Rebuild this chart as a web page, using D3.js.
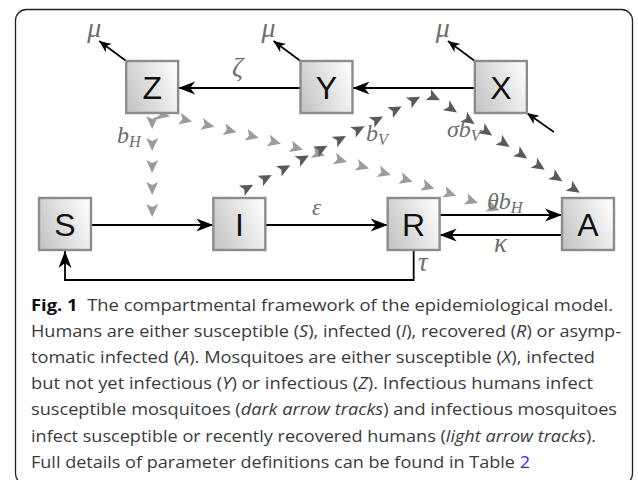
<!DOCTYPE html>
<html>
<head>
<meta charset="utf-8">
<script src="https://cdn.jsdelivr.net/npm/d3@7"></script>
<style>
  body { margin: 0; background: #fff; }
  svg { display: block; }
</style>
</head>
<body>
<script>
// page set up
const FRAME_WIDTH = 638;
const FRAME_HEIGHT = 480;
const BOX = 52;

// compartments (humans on the bottom row, mosquitoes on the top row)
const HUMANS = ["S", "I", "R", "A"];
const MOSQUITOES = ["Z", "Y", "X"];

// transitions between compartments
const FLOWS = [
  {from: "S", to: "I"},
  {from: "I", to: "R"},
  {from: "R", to: "A"},
  {from: "A", to: "R"},
  {from: "X", to: "Y"},
  {from: "Y", to: "Z"}
];
const DEATH_LABEL = "μ";
const RETURN_LABEL = "τ";

// caption lines, each a list of [text, style]
const CAPTION = [
  [["Fig. 1", "b"], ["  The compartmental framework of the epidemiological model.", ""]],
  [["Humans are either susceptible (", ""], ["S", "i"], ["), infected (", ""], ["I", "i"], ["), recovered (", ""], ["R", "i"], [") or asymp-", ""]],
  [["tomatic infected (", ""], ["A", "i"], ["). Mosquitoes are either susceptible (", ""], ["X", "i"], ["), infected", ""]],
  [["but not yet infectious (", ""], ["Y", "i"], [") or infectious (", ""], ["Z", "i"], ["). Infectious humans infect", ""]],
  [["susceptible mosquitoes (", ""], ["dark arrow tracks", "i"], [") and infectious mosquitoes", ""]],
  [["infect susceptible or recently recovered humans (", ""], ["light arrow tracks", "i"], [").", ""]],
  [["Full details of parameter definitions can be found in Table ", ""], ["2", "link"]]
];
const CAPTION_ENDS = [613, 621, 595, 593, 617, 596, 530];

// scales: columns for humans 0..3, mosquitoes sit half way between
const X_SCALE = d3.scaleLinear().domain([0, 3]).range([65, 588]);
const Y_SCALE = d3.scalePoint().domain(["mosquito", "human"]).range([87, 224]);

const NODES = {};
HUMANS.forEach((h, i) => { NODES[h] = {x: X_SCALE(i), y: Y_SCALE("human")}; });
MOSQUITOES.forEach((m, i) => { NODES[m] = {x: X_SCALE(i + 0.5), y: Y_SCALE("mosquito")}; });

const svg = d3.select("body").append("svg")
  .attr("width", FRAME_WIDTH)
  .attr("height", FRAME_HEIGHT);

const defs = svg.append("defs");

const grad = defs.append("linearGradient")
  .attr("id", "boxfill")
  .attr("x1", 0).attr("y1", 0.7).attr("x2", 1).attr("y2", 0.3);
grad.append("stop").attr("offset", 0).attr("stop-color", "#c6c6c6");
grad.append("stop").attr("offset", 1).attr("stop-color", "#fbfbfb");

function addMarker(id, len, half, notch) {
  defs.append("marker")
    .attr("id", id)
    .attr("markerUnits", "userSpaceOnUse")
    .attr("viewBox", (-len - 1) + " " + (-half - 1) + " " + (len + 2) + " " + (2 * half + 2))
    .attr("markerWidth", len + 2)
    .attr("markerHeight", 2 * half + 2)
    .attr("refX", 0).attr("refY", 0)
    .attr("orient", "auto")
    .append("path")
    .attr("d", "M0,0 L" + (-len) + "," + (-half) + " L" + (-len + notch) + ",0 L" + (-len) + "," + half + " Z")
    .attr("fill", "#000");
}
addMarker("arrow", 17, 6.5, 5);
addMarker("small", 12, 5, 3.5);

// outer frame
svg.append("rect")
  .attr("x", 15.5).attr("y", 9.5)
  .attr("width", 617).attr("height", 475)
  .attr("rx", 11)
  .attr("fill", "none")
  .attr("stroke", "#222")
  .attr("stroke-width", 1.3);

// arrow tracks (drawn first so boxes sit on top)
function track(d, color, step) {
  const p = svg.append("path").attr("d", d).attr("fill", "none").attr("stroke", "none");
  const node = p.node();
  const len = node.getTotalLength();
  const n = Math.round(len / step);
  const g = svg.append("g").attr("fill", color);
  for (let i = 0; i <= n; i++) {
    const l = len * i / n;
    const a = node.getPointAtLength(Math.max(0, l - 0.5));
    const b = node.getPointAtLength(Math.min(len, l + 0.5));
    const pt = node.getPointAtLength(l);
    const ang = Math.atan2(b.y - a.y, b.x - a.x) * 180 / Math.PI;
    g.append("path")
      .attr("d", "M7,0 L-6,-6 L-3,0 L-6,6 Z")
      .attr("transform", "translate(" + pt.x + "," + pt.y + ") rotate(" + ang + ")");
  }
}
const LIGHT = "#9b9b9b";
const DARK = "#5a5a5a";
// infectious mosquitoes -> humans
track("M" + NODES.Z.x + ",122 V210", LIGHT, 22);
track("M163,115 Q322,150 493,208", LIGHT, 23);
// infectious humans -> mosquitoes
track("M247,188 L418,98 Q428,92 438,100 L574,189", DARK, 21.5);

// solid flow arrows
const edge = (n) => ({l: n.x - BOX / 2, r: n.x + BOX / 2, t: n.y - BOX / 2, b: n.y + BOX / 2});
FLOWS.forEach((f) => {
  const a = NODES[f.from], b = NODES[f.to];
  let shift = 1;
  if (f.from === "R" && f.to === "A") shift = -9;
  if (f.from === "A" && f.to === "R") shift = 11;
  const x1 = a.x < b.x ? edge(a).r : edge(a).l;
  const x2 = a.x < b.x ? edge(b).l : edge(b).r;
  svg.append("line")
    .attr("x1", x1).attr("y1", a.y + shift)
    .attr("x2", x2).attr("y2", a.y + shift)
    .attr("stroke", "#000").attr("stroke-width", 1.8)
    .attr("marker-end", "url(#arrow)");
});

// recovered back to susceptible
svg.append("path")
  .attr("d", "M" + NODES.R.x + "," + edge(NODES.R).b + " V280 H" + NODES.S.x + " V" + (edge(NODES.S).b + 1))
  .attr("fill", "none")
  .attr("stroke", "#000").attr("stroke-width", 1.8)
  .attr("marker-end", "url(#arrow)");

// mosquito deaths and births
MOSQUITOES.forEach((m) => {
  const e = edge(NODES[m]);
  svg.append("line")
    .attr("x1", e.l).attr("y1", e.t)
    .attr("x2", e.l - 27).attr("y2", e.t - 20)
    .attr("stroke", "#000").attr("stroke-width", 1.6)
    .attr("marker-end", "url(#small)");
});
svg.append("line")
  .attr("x1", edge(NODES.X).r + 27).attr("y1", edge(NODES.X).b + 19)
  .attr("x2", edge(NODES.X).r).attr("y2", edge(NODES.X).b)
  .attr("stroke", "#000").attr("stroke-width", 1.6)
  .attr("marker-end", "url(#small)");

// compartment boxes
const allNodes = HUMANS.concat(MOSQUITOES);
const boxes = svg.selectAll(".box")
  .data(allNodes)
  .enter()
  .append("g")
  .attr("class", "box")
  .attr("transform", (d) => "translate(" + NODES[d].x + "," + NODES[d].y + ")");
boxes.append("rect")
  .attr("x", -BOX / 2).attr("y", -BOX / 2)
  .attr("width", BOX).attr("height", BOX)
  .attr("fill", "url(#boxfill)")
  .attr("stroke", "#8c8c8c")
  .attr("stroke-width", 2.4);
boxes.append("text")
  .attr("text-anchor", "middle")
  .attr("y", 12)
  .attr("font-family", "Liberation Sans, Arial, sans-serif")
  .attr("font-size", 32)
  .attr("fill", "#111")
  .text((d) => d);

// parameter labels
const PARAM_COLOR = "#6e6e6e";
function param(x, y, main, sub, size) {
  const s = size || 24;
  const t = svg.append("text")
    .attr("x", x).attr("y", y)
    .attr("font-family", "Liberation Serif, Times New Roman, serif")
    .attr("font-style", "italic")
    .attr("font-size", s)
    .attr("fill", PARAM_COLOR);
  t.append("tspan").text(main);
  if (sub) t.append("tspan").attr("dy", 4).attr("font-size", s * 0.68).text(sub);
  return t;
}
MOSQUITOES.forEach((m) => {
  param(NODES[m].x - 65, 37, DEATH_LABEL, null, 28);
});
param(232, 76, "ζ", null, 27);
param(117, 143, "b", "H", 24);
param(366, 141, "b", "V", 24);
param(447, 137, "σb", "V", 24);
param(312, 215, "ε", null, 23);
param(487, 209, "θb", "H", 24);
param(494, 252, "κ", null, 27);
param(418, 271, RETURN_LABEL, null, 27);

// caption
const cap = svg.append("g")
  .attr("font-family", "Open Sans, sans-serif")
  .attr("font-size", 16.5)
  .attr("fill", "#3a3a3a");
CAPTION.forEach((line, i) => {
  const t = cap.append("text")
    .attr("x", 31)
    .attr("y", 311 + i * 26.1)
    .attr("textLength", CAPTION_ENDS[i] - 31)
    .attr("lengthAdjust", "spacingAndGlyphs")
    .attr("xml:space", "preserve")
    .style("white-space", "pre");
  line.forEach(([s, style]) => {
    const ts = t.append("tspan").text(s);
    if (style === "b") ts.attr("font-weight", "bold").attr("fill", "#111");
    if (style === "i") ts.attr("font-style", "italic");
    if (style === "link") ts.attr("fill", "#2b2bf0");
  });
});
</script>
</body>
</html>
